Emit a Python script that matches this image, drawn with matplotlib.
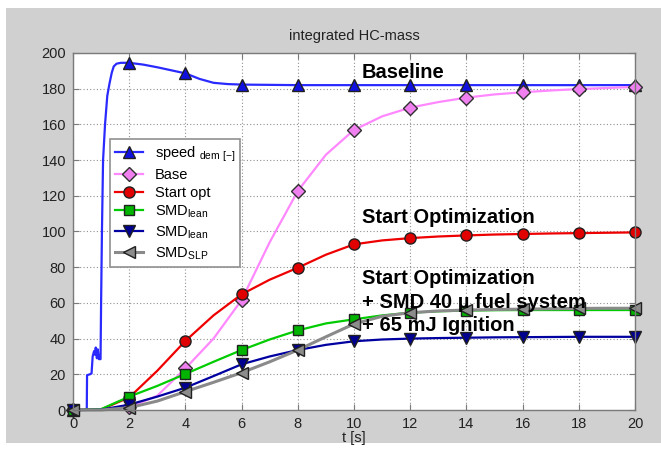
import matplotlib
matplotlib.use("Agg")
import matplotlib.pyplot as plt
from matplotlib.patches import Rectangle

plt.rcParams['font.family'] = ['Liberation Sans', 'DejaVu Sans']
plt.rcParams['mathtext.fontset'] = 'custom'
plt.rcParams['mathtext.rm'] = 'Liberation Sans'

# demanded speed trace (scaled), sampled densely during the run-up
t_speed = [0, 0.49, 0.5, 0.6, 0.66, 0.7, 0.75, 0.78, 0.81, 0.85, 0.88, 0.92, 0.98,
           1.0, 1.03, 1.07, 1.14, 1.22, 1.3, 1.38, 1.45, 1.55, 1.7, 2, 2.5, 3, 3.5,
           4, 4.5, 5, 5.5, 6, 8, 10, 12, 14, 16, 18, 20]
v_speed = [0, 0, 19.5, 20, 20.5, 30, 33, 31, 35, 29, 34, 28.5, 28.5,
           60, 100, 140, 160, 176, 183, 189, 192.5, 194, 194.5, 194.5, 193.5, 192, 190.3,
           188.6, 185.5, 183.3, 182.6, 182.3, 182, 182, 182, 182, 182, 182, 182]

# integrated HC mass per variant, one value per second
t = list(range(21))
base = [0, 0.3, 1.5, 8, 23.3, 40, 61.6, 94, 122.7, 143, 156.9, 164.5, 169.4,
        172.5, 175, 176.8, 178, 179, 179.8, 180.4, 181]
start_opt = [0, 0.3, 7, 22, 38.7, 53, 64.8, 73, 79.7, 87, 92.8, 95, 96.3,
             97.2, 97.8, 98.3, 98.6, 98.9, 99.1, 99.3, 99.5]
smd_lean_a = [0, 0.5, 7.5, 13.5, 20.2, 27, 33.6, 39.5, 44.6, 48.5, 50.8, 53, 54.5,
              55.3, 55.7, 55.9, 56, 56, 56, 56, 56]
smd_lean_b = [0, 0.2, 3, 7.5, 12.5, 19, 25.6, 30, 33.6, 36.5, 38.5, 39.5, 40,
              40.3, 40.5, 40.7, 40.8, 40.9, 41, 41, 41]
smd_slp = [0, 0, 1.3, 5, 10.3, 15.5, 20.9, 27, 33.6, 41, 48.2, 52.5, 54.5,
           55.5, 56, 56.3, 56.5, 56.7, 56.9, 57, 57]

labels = [r'speed $_{\mathrm{dem\ [-]}}$', 'Base', 'Start opt',
          r'SMD$_{\mathrm{lean}}$', r'SMD$_{\mathrm{lean}}$', r'SMD$_{\mathrm{SLP}}$']

x_ticks = list(range(0, 21, 2))
y_ticks = list(range(0, 201, 20))

fig = plt.figure(figsize=(6.61, 4.51), dpi=100, facecolor='white')
fig.patches.append(Rectangle((6 / 661, 8 / 451), 655 / 661, 435 / 451,
                             transform=fig.transFigure, facecolor='#d0d0d0',
                             edgecolor='none', zorder=-10))
ax = fig.add_axes([73 / 661, 1 - 410 / 451, 562 / 661, 357 / 451])
ax.set_facecolor('white')

mk_idx = [i for i, tv in enumerate(t_speed) if float(tv).is_integer() and int(tv) % 2 == 0]
common = dict(markersize=8, markeredgecolor='#202020', markeredgewidth=1.0, clip_on=False)

ax.plot(t_speed, v_speed, color='#2a2aff', lw=1.6, marker='^', markerfacecolor='#1010e0',
        markevery=mk_idx, label=labels[0], **common)
ax.plot(t, base, color='#ff88ff', lw=1.6, marker='D', markersize=7, markerfacecolor='#f080f0',
        markeredgecolor='#303030', markeredgewidth=1.0, markevery=2, label=labels[1], clip_on=False)
ax.plot(t, start_opt, color='#ee0000', lw=1.6, marker='o', markerfacecolor='#e00000',
        markevery=2, label=labels[2], **common)
ax.plot(t, smd_lean_a, color='#00cc00', lw=1.6, marker='s', markersize=7, markerfacecolor='#00b400',
        markeredgecolor='#202020', markeredgewidth=1.0, markevery=2, label=labels[3], clip_on=False)
ax.plot(t, smd_lean_b, color='#0000a0', lw=1.6, marker='v', markerfacecolor='#000090',
        markevery=2, label=labels[4], **common)
ax.plot(t, smd_slp, color='#8a8a8a', lw=2.2, marker='<', markerfacecolor='#8c8c8c',
        markevery=2, label=labels[5], **common)

ax.set_xlim(0, 20)
ax.set_ylim(0, 200)
ax.set_xticks(x_ticks)
ax.set_yticks(y_ticks)
ax.grid(True, color='#909090', linestyle=(0, (1, 2)), linewidth=0.8)
ax.set_axisbelow(True)
for s in ax.spines.values():
    s.set_color('#7a7a7a')
    s.set_linewidth(1.0)
ax.tick_params(direction='in', length=4, width=0.8, color='#7a7a7a', labelsize=10.5,
               labelcolor='#222222', top=True, right=True, pad=5)

ax.set_title('integrated HC-mass', fontsize=10.5, color='#222222', pad=9)
ax.set_xlabel('t [s]', fontsize=10.5, color='#222222', labelpad=0)

leg = ax.legend(loc='upper left', bbox_to_anchor=(0.066, 0.759), borderaxespad=0,
                fontsize=10.5, frameon=True, fancybox=False, edgecolor='#909090',
                framealpha=1, handlelength=1.9, handletextpad=0.8, labelspacing=0.27,
                borderpad=0.35)
leg.get_frame().set_linewidth(1.2)

txt_kw = dict(fontsize=14.5, fontweight='bold', ha='left', va='center')
ax.text(10.28, 188.8, 'Baseline', **txt_kw)
ax.text(10.28, 108, 'Start Optimization', **txt_kw)
ax.text(10.28, 60.5, 'Start Optimization\n+ SMD 40 \u00b5 fuel system\n+ 65 mJ Ignition',
        linespacing=1.3, **txt_kw)

fig.savefig('out.png', dpi=100, facecolor=fig.get_facecolor())
